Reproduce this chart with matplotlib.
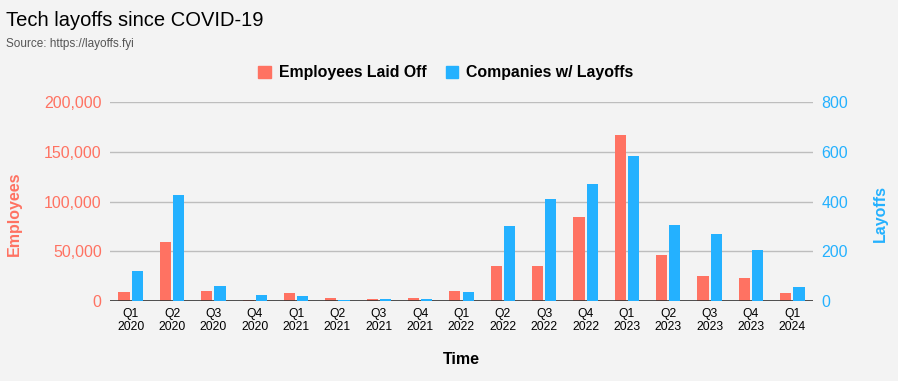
import matplotlib.pyplot as plt
import numpy as np
from matplotlib.patches import Patch

plt.rcParams['font.family'] = ['Liberation Sans', 'DejaVu Sans']

quarters = ["Q1\n2020", "Q2\n2020", "Q3\n2020", "Q4\n2020",
            "Q1\n2021", "Q2\n2021", "Q3\n2021", "Q4\n2021",
            "Q1\n2022", "Q2\n2022", "Q3\n2022", "Q4\n2022",
            "Q1\n2023", "Q2\n2023", "Q3\n2023", "Q4\n2023",
            "Q1\n2024"]
employees = [9400, 59600, 10400, 1300, 8400, 3400, 2300, 3300,
             10400, 35500, 35500, 84800, 167200, 46600, 25500, 23500, 8400]
companies = [122, 427, 62, 25, 21, 5, 9, 9,
             37, 303, 411, 472, 584, 307, 271, 206, 58]

RED = "#FF7262"
BLUE = "#24B1FF"
BG = "#F3F3F3"

fig = plt.figure(figsize=(8.98, 3.81), dpi=100, facecolor=BG)
ax = fig.add_axes([110 / 898, 1 - 301 / 381, 703 / 898, 199 / 381])
ax.set_facecolor(BG)
ax2 = ax.twinx()

x = np.arange(len(quarters))
w = 0.27
ax.bar(x - 0.16, employees, width=w, color=RED, zorder=3)
ax2.bar(x + 0.16, companies, width=w, color=BLUE, zorder=3)

ax.set_xlim(-0.5, len(quarters) - 0.5)
ax.set_ylim(0, 200000)
ax2.set_ylim(0, 800)
ax.set_yticks(np.arange(0, 200001, 50000))
ax.set_yticklabels([f"{v:,}" for v in range(0, 200001, 50000)])
ax2.set_yticks(np.arange(0, 801, 200))

ax.grid(axis='y', color='#BDBDBD', linewidth=1, zorder=0)
ax.set_axisbelow(True)
for a in (ax, ax2):
    for s in a.spines.values():
        s.set_visible(False)
ax.axhline(0, color='#333333', linewidth=1.2, zorder=5)

ax.set_xticks(x)
ax.set_xticklabels(quarters, fontsize=8.7, linespacing=1.1)
ax.tick_params(axis='x', length=0, pad=5)
ax.tick_params(axis='y', length=0, labelsize=11.5, labelcolor=RED, pad=6)
ax2.tick_params(axis='y', length=0, labelsize=11.5, labelcolor=BLUE, pad=6)

ax.set_ylabel("Employees", color=RED, fontsize=11.5, fontweight='bold')
ax.yaxis.set_label_coords(-0.125, 0.44)
ax2.set_ylabel("Layoffs", color=BLUE, fontsize=11.5, fontweight='bold')
ax2.yaxis.set_label_coords(1.085, 0.44)
ax.set_xlabel("Time", fontsize=11.5, fontweight='bold', labelpad=14)

fig.text(6 / 898, 1 - 20 / 381, "Tech layoffs since COVID-19", fontsize=14.5, va='center')
fig.text(6 / 898, 1 - 44 / 381, "Source: https://layoffs.fyi", fontsize=8.5, color='#555555', va='center')

handles = [Patch(color=RED, label="Employees Laid Off"),
           Patch(color=BLUE, label="Companies w/ Layoffs")]
leg = fig.legend(handles=handles, loc='center', bbox_to_anchor=(446 / 898, 1 - 73 / 381),
                 ncol=2, frameon=False, prop={'weight': 'bold', 'size': 11.4},
                 handlelength=0.8, handleheight=0.8, handletextpad=0.5, columnspacing=1.2)

fig.savefig("out.png", dpi=100, facecolor=BG)
